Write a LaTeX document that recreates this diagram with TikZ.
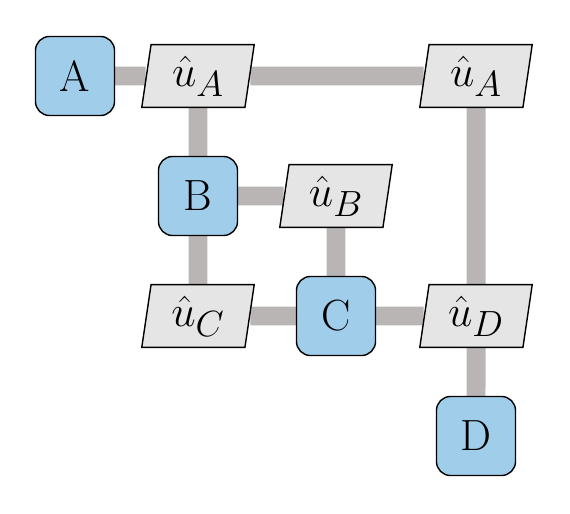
\documentclass[tikz,border=0pt]{standalone}
\usepackage{amsmath}
\usepackage{amssymb}
\usetikzlibrary{arrows,shapes.geometric,backgrounds}
\definecolor{blockblue}{HTML}{9FCDEA}
\definecolor{msggray}{HTML}{E5E5E5}
\definecolor{wire}{HTML}{B9B5B5}
\tikzset{
    %Define style for blocks
    block/.style={
    	rectangle,
    	rounded corners=8pt,
    	draw=black, line width=0.8pt,
    	minimum width=45pt,
    	minimum height=45pt,
    	font=\Huge,
    	text centered,
    	fill=blockblue
    },
    %Define style for messages
    message/.style={
    	trapezium,
    	trapezium left angle=77,
    	trapezium right angle=103,
    	trapezium stretches body,
    	draw=black, line width=0.8pt,
    	minimum width=64pt,
    	minimum height=35.7pt,
    	inner sep=0pt,
    	font=\Huge,
    	text centered,
    	fill=msggray
    },
    % Define link style
    link/.style={
    	draw=wire,
    	line width=10.8pt}
}
\begin{document}
\begin{tikzpicture}[x=0.02cm,y=-0.02cm]
		\useasboundingbox (0,0) rectangle (570,513);
		\node[block](a) at (75,76){A};
		\node[message](ua1) at (198,76){$\hat{u}_A$};
		\node[message](ua2) at (476,76){$\hat{u}_A$};
		\node[block](b) at (198,196){B};
		\node[message](ub) at (336,196){$\hat{u}_B$};
		\node[message](uc) at (198,316){$\hat{u}_C$};
		\node[block](c) at (336,316){C};
		\node[message](ud) at (476,316){$\hat{u}_D$};
		\node[block](d) at (476,436){D};
		\begin{pgfonlayer}{background}
		\path[link]
		(a) -- (ua1)
		(ua1) -- (ua2)
		(ua1) -- (b)
		(b) -- (ub)
		(ub) -- (c)
		(b) -- (uc)
		(uc) -- (c)
		(c) -- (ud)
		(ua2) -- (ud)
		(ud) -- (d);
		\end{pgfonlayer}
		\end{tikzpicture}
\end{document}
